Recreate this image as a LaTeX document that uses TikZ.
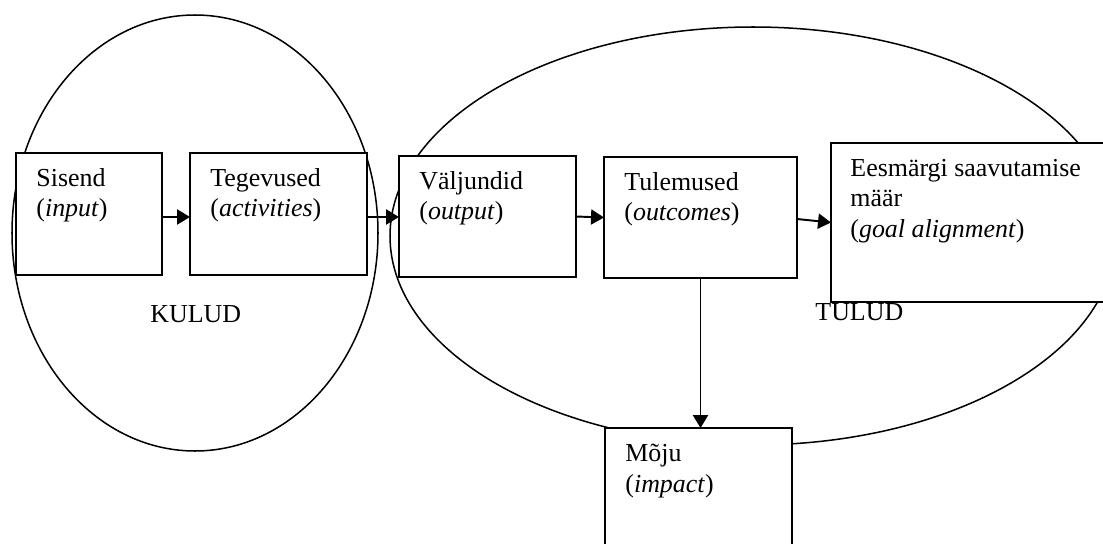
\documentclass[tikz,border=0pt]{standalone}
\usepackage{fontspec}
\setmainfont{Liberation Serif}
\usetikzlibrary{positioning, arrows.meta, calc}
\tikzset{
  box/.style={
    draw,
    rectangle,
    line width=0.9pt,
    fill=white,
    inner sep=0pt,
    outer sep=0pt
  },
  size/.style 2 args={
    minimum width=#1*0.463pt,
    minimum height=#2*0.463pt
  },
  boxtext/.style={
    anchor=north west,
    align=left,
    inner sep=0pt,
    font=\fontsize{12}{14}\selectfont
  },
  flow/.style={
    line width=0.9pt,
    -{Triangle[length=6pt, width=7pt]}
  },
  zone/.style={
    line width=0.7pt
  }
}

\begin{document}
\begin{tikzpicture}[x=0.463pt, y=-0.463pt]
        \clip (0,0) rectangle (1103,544);

        \draw[zone] (195,233) ellipse [x radius=183, y radius=218];
        \draw[zone] (753,236) ellipse [x radius=363, y radius=209];

        \node[box, size={146}{122}] (sisend) at (89,214) {};
        \node[box, size={177}{122}] (tegevused) at (278.5,214) {};
        \node[box, size={177}{121}] (valjundid) at (487.5,216.5) {};
        \node[box, size={193}{121}] (tulemused) at (700.5,217.5) {};
        \node[box, size={275}{159}] (eesmark) at (968.5,222.5) {};
        \node[box, size={187}{132}] (moju) at (698.5,494) {};

        \node[boxtext] (sisendtext) at ($(sisend.north west)+(20,15)$) {Sisend\\(\textit{input})};
        \node[boxtext] (tegevusedtext) at ($(tegevused.north west)+(20,15)$) {Tegevused\\(\textit{activities})};
        \node[boxtext] (valjundidtext) at ($(valjundid.north west)+(20,15)$) {Väljundid\\(\textit{output})};
        \node[boxtext] (tulemusedtext) at ($(tulemused.north west)+(20,15)$) {Tulemused\\(\textit{outcomes})};
        \node[boxtext] (eesmarktext) at ($(eesmark.north west)+(19,16)$) {Eesmärgi saavutamise\\määr\\(\textit{goal alignment})};
        \node[boxtext] (mojutext) at ($(moju.north west)+(20,16)$) {Mõju\\(\textit{impact})};

        \node[boxtext, anchor=base west] (kulud) at (150,322) {KULUD};
        \node[boxtext, anchor=base west] (tulud) at (815,320) {TULUD};

        \draw[flow] ($(sisend.east)+(0,3)$) -- ($(tegevused.west)+(0,3)$);
        \draw[flow] ($(tegevused.east)+(0,3)$) -- ($(valjundid.west)+(0,0.5)$);
        \draw[flow] (valjundid.east) -- (tulemused.west);
        \draw[flow] ($(tulemused.east)+(0,1.5)$) -- (eesmark.west);
        \draw[flow] (tulemused.south) -- (tulemused.south |- moju.north);
      \end{tikzpicture}
\end{document}
